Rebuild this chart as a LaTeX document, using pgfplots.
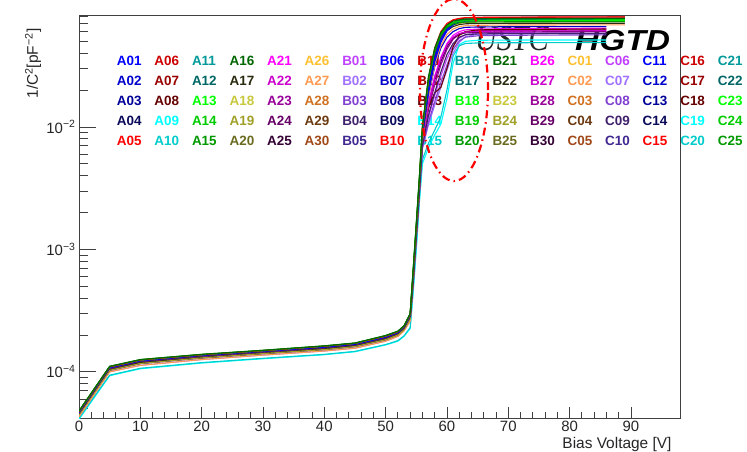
\documentclass[border=0pt]{standalone}
\usepackage{fontspec}
\setmainfont{Liberation Sans}
\newfontfamily\serifit{Liberation Serif}
\usepackage{pgfplots}
\usepackage{pgfplotstable}
\pgfplotsset{compat=1.18}

\definecolor{lc1}{HTML}{0000FF}\definecolor{lc2}{HTML}{0000CC}\definecolor{lc3}{HTML}{000099}\definecolor{lc4}{HTML}{0A0A5A}\definecolor{lc5}{HTML}{FF0000}
\definecolor{lc6}{HTML}{CC0000}\definecolor{lc7}{HTML}{990000}\definecolor{lc8}{HTML}{660000}\definecolor{lc9}{HTML}{00FFFF}\definecolor{lc10}{HTML}{00CCCC}
\definecolor{lc11}{HTML}{009999}\definecolor{lc12}{HTML}{006666}\definecolor{lc13}{HTML}{00FF00}\definecolor{lc14}{HTML}{00CC00}\definecolor{lc15}{HTML}{009900}
\definecolor{lc16}{HTML}{006600}\definecolor{lc17}{HTML}{2A2A10}\definecolor{lc18}{HTML}{C8C83C}\definecolor{lc19}{HTML}{A0A028}\definecolor{lc20}{HTML}{6B6B20}
\definecolor{lc21}{HTML}{FF00FF}\definecolor{lc22}{HTML}{CC00CC}\definecolor{lc23}{HTML}{990099}\definecolor{lc24}{HTML}{660066}\definecolor{lc25}{HTML}{330033}
\definecolor{lc26}{HTML}{FFC030}\definecolor{lc27}{HTML}{FF9A50}\definecolor{lc28}{HTML}{D07020}\definecolor{lc29}{HTML}{6B3A10}\definecolor{lc30}{HTML}{A04818}
\definecolor{lc31}{HTML}{C040FF}\definecolor{lc32}{HTML}{A070FF}\definecolor{lc33}{HTML}{8040D0}\definecolor{lc34}{HTML}{40206A}\definecolor{lc35}{HTML}{402890}

\newcommand\lgfont{\fontsize{13.5}{16}\selectfont\bfseries}

% fast-depleting sensors (top plateau)
\pgfplotstableread{
V f1 f2 f3 f4 f5 f6 f7 f8 f9 f10 f11 f12 f13 f14
0 4.75e-5 4.8e-5 4.65e-5 4.8e-5 4.65e-5 4.6e-5 4.75e-5 4.6e-5 4.65e-5 4.3e-5 4.5e-5 4.75e-5 4.6e-5 4.45e-5
5 1.10e-4 1.11e-4 1.08e-4 1.11e-4 1.08e-4 1.07e-4 1.10e-4 1.07e-4 1.08e-4 1.0e-4 1.04e-4 1.10e-4 1.07e-4 1.03e-4
10 1.25e-4 1.26e-4 1.23e-4 1.26e-4 1.23e-4 1.22e-4 1.25e-4 1.22e-4 1.23e-4 1.13e-4 1.19e-4 1.25e-4 1.22e-4 1.17e-4
20 1.38e-4 1.39e-4 1.36e-4 1.39e-4 1.36e-4 1.35e-4 1.38e-4 1.35e-4 1.36e-4 1.26e-4 1.31e-4 1.38e-4 1.35e-4 1.30e-4
30 1.49e-4 1.50e-4 1.47e-4 1.50e-4 1.47e-4 1.46e-4 1.49e-4 1.46e-4 1.47e-4 1.37e-4 1.42e-4 1.49e-4 1.46e-4 1.41e-4
40 1.62e-4 1.63e-4 1.59e-4 1.63e-4 1.59e-4 1.58e-4 1.62e-4 1.58e-4 1.59e-4 1.48e-4 1.54e-4 1.62e-4 1.58e-4 1.52e-4
45 1.71e-4 1.72e-4 1.68e-4 1.72e-4 1.68e-4 1.67e-4 1.71e-4 1.67e-4 1.68e-4 1.56e-4 1.63e-4 1.71e-4 1.67e-4 1.61e-4
50 1.96e-4 1.98e-4 1.92e-4 1.98e-4 1.92e-4 1.90e-4 1.96e-4 1.90e-4 1.92e-4 1.78e-4 1.85e-4 1.96e-4 1.90e-4 1.83e-4
52 2.13e-4 2.15e-4 2.09e-4 2.15e-4 2.09e-4 2.07e-4 2.13e-4 2.07e-4 2.09e-4 1.95e-4 2.02e-4 2.13e-4 2.07e-4 2.0e-4
53 2.36e-4 2.38e-4 2.31e-4 2.38e-4 2.31e-4 2.29e-4 2.36e-4 2.29e-4 2.31e-4 2.16e-4 2.24e-4 2.36e-4 2.29e-4 2.21e-4
54 2.95e-4 3.0e-4 2.88e-4 3.0e-4 2.88e-4 2.85e-4 2.95e-4 2.85e-4 2.88e-4 2.6e-4 2.75e-4 2.95e-4 2.85e-4 2.7e-4
54.5 6.6e-4 7.0e-4 6.3e-4 6.9e-4 6.4e-4 6.2e-4 6.7e-4 6.0e-4 6.3e-4 5.6e-4 6.0e-4 6.8e-4 6.1e-4 5.9e-4
55 1.55e-3 1.65e-3 1.45e-3 1.6e-3 1.5e-3 1.45e-3 1.55e-3 1.4e-3 1.48e-3 1.3e-3 1.4e-3 1.6e-3 1.42e-3 1.38e-3
55.5 3.7e-3 3.9e-3 3.4e-3 3.8e-3 3.5e-3 3.3e-3 3.7e-3 3.2e-3 3.5e-3 3.0e-3 3.2e-3 3.8e-3 3.3e-3 3.2e-3
56 9.8e-3 1.02e-2 8.8e-3 1.0e-2 9.2e-3 8.6e-3 9.6e-3 8.2e-3 9.0e-3 7.8e-3 8.4e-3 1.0e-2 8.5e-3 8.3e-3
57 2.5e-2 2.6e-2 2.1e-2 2.5e-2 2.3e-2 2.1e-2 2.4e-2 1.9e-2 2.2e-2 1.8e-2 2.0e-2 2.5e-2 2.0e-2 2.0e-2
58 4.4e-2 4.4e-2 3.7e-2 4.2e-2 4.1e-2 3.8e-2 4.2e-2 3.4e-2 3.9e-2 3.2e-2 3.6e-2 4.3e-2 3.6e-2 3.6e-2
59 6.0e-2 5.9e-2 5.2e-2 5.6e-2 5.7e-2 5.4e-2 5.7e-2 4.9e-2 5.5e-2 4.6e-2 5.1e-2 5.8e-2 5.2e-2 5.1e-2
60 7.0e-2 6.8e-2 6.3e-2 6.5e-2 6.8e-2 6.5e-2 6.6e-2 6.1e-2 6.6e-2 5.7e-2 6.1e-2 6.7e-2 6.4e-2 6.2e-2
61 7.5e-2 7.3e-2 6.9e-2 6.9e-2 7.4e-2 7.1e-2 7.1e-2 6.8e-2 7.1e-2 6.3e-2 6.6e-2 7.1e-2 7.0e-2 6.75e-2
62 7.7e-2 7.5e-2 7.2e-2 7.1e-2 7.65e-2 7.4e-2 7.3e-2 7.15e-2 7.4e-2 6.6e-2 6.85e-2 7.3e-2 7.35e-2 7.0e-2
63 7.8e-2 7.6e-2 7.35e-2 7.18e-2 7.75e-2 7.55e-2 7.4e-2 7.3e-2 7.5e-2 6.7e-2 6.95e-2 7.35e-2 7.5e-2 7.15e-2
65 7.85e-2 7.65e-2 7.42e-2 7.2e-2 7.82e-2 7.62e-2 7.45e-2 7.38e-2 7.55e-2 6.76e-2 7.0e-2 7.38e-2 7.58e-2 7.2e-2
70 7.88e-2 7.68e-2 7.46e-2 7.22e-2 7.85e-2 7.66e-2 7.48e-2 7.42e-2 7.58e-2 6.79e-2 7.02e-2 7.39e-2 7.62e-2 7.22e-2
89 7.93e-2 7.71e-2 7.5e-2 7.25e-2 7.9e-2 7.71e-2 7.5e-2 7.45e-2 7.6e-2 6.82e-2 7.03e-2 7.4e-2 7.65e-2 7.25e-2
}\fast

% slower sensors (purple / magenta group)
\pgfplotstableread{
V m1 m2 m3 m4 m5 m6 m7 m8 m9 m10
0 4.5e-5 4.45e-5 4.5e-5 4.3e-5 4.45e-5 4.5e-5 4.6e-5 4.65e-5 4.5e-5 4.45e-5
5 1.04e-4 1.03e-4 1.04e-4 1.0e-4 1.03e-4 1.04e-4 1.07e-4 1.08e-4 1.04e-4 1.03e-4
10 1.19e-4 1.17e-4 1.19e-4 1.13e-4 1.17e-4 1.19e-4 1.22e-4 1.23e-4 1.19e-4 1.17e-4
20 1.31e-4 1.30e-4 1.31e-4 1.26e-4 1.30e-4 1.31e-4 1.35e-4 1.36e-4 1.31e-4 1.30e-4
30 1.42e-4 1.41e-4 1.42e-4 1.37e-4 1.41e-4 1.42e-4 1.46e-4 1.47e-4 1.42e-4 1.41e-4
40 1.54e-4 1.52e-4 1.54e-4 1.48e-4 1.52e-4 1.54e-4 1.58e-4 1.59e-4 1.54e-4 1.52e-4
45 1.63e-4 1.61e-4 1.63e-4 1.56e-4 1.61e-4 1.63e-4 1.67e-4 1.68e-4 1.63e-4 1.61e-4
50 1.85e-4 1.83e-4 1.85e-4 1.78e-4 1.83e-4 1.85e-4 1.90e-4 1.92e-4 1.85e-4 1.83e-4
52 2.02e-4 2.0e-4 2.02e-4 1.95e-4 2.0e-4 2.02e-4 2.07e-4 2.09e-4 2.02e-4 2.0e-4
53 2.24e-4 2.21e-4 2.24e-4 2.16e-4 2.21e-4 2.24e-4 2.29e-4 2.31e-4 2.24e-4 2.21e-4
54 2.75e-4 2.7e-4 2.75e-4 2.6e-4 2.7e-4 2.75e-4 2.85e-4 2.88e-4 2.75e-4 2.7e-4
54.5 5.8e-4 5.6e-4 5.5e-4 5.3e-4 5.4e-4 5.7e-4 5.9e-4 5.8e-4 5.7e-4 5.5e-4
55 1.35e-3 1.3e-3 1.28e-3 1.22e-3 1.25e-3 1.32e-3 1.38e-3 1.35e-3 1.33e-3 1.27e-3
55.5 3.1e-3 3.0e-3 2.9e-3 2.8e-3 2.85e-3 3.05e-3 3.2e-3 3.1e-3 3.05e-3 2.9e-3
56 7.8e-3 7.4e-3 7.0e-3 6.6e-3 6.8e-3 7.6e-3 8.2e-3 7.9e-3 7.5e-3 7.1e-3
57 1.6e-2 1.4e-2 1.2e-2 1.05e-2 1.1e-2 1.5e-2 1.8e-2 1.45e-2 1.5e-2 1.25e-2
58 2.6e-2 2.2e-2 1.8e-2 1.5e-2 1.6e-2 2.4e-2 3.1e-2 1.9e-2 2.5e-2 1.9e-2
59 3.7e-2 3.2e-2 2.6e-2 2.1e-2 2.3e-2 3.4e-2 4.4e-2 2.1e-2 3.6e-2 2.8e-2
60 4.8e-2 4.3e-2 3.6e-2 2.9e-2 3.2e-2 4.5e-2 5.4e-2 3.0e-2 4.7e-2 3.9e-2
61 5.6e-2 5.2e-2 4.6e-2 4.0e-2 4.3e-2 5.3e-2 6.0e-2 4.5e-2 5.4e-2 4.8e-2
62 6.0e-2 5.7e-2 5.3e-2 4.9e-2 5.05e-2 5.7e-2 6.35e-2 5.6e-2 5.8e-2 5.4e-2
63 6.2e-2 5.95e-2 5.65e-2 5.45e-2 5.4e-2 5.85e-2 6.5e-2 6.0e-2 5.95e-2 5.65e-2
65 6.3e-2 6.1e-2 5.85e-2 5.7e-2 5.55e-2 5.93e-2 6.55e-2 6.2e-2 6.03e-2 5.75e-2
70 6.35e-2 6.15e-2 5.92e-2 5.75e-2 5.6e-2 5.97e-2 6.58e-2 6.25e-2 6.07e-2 5.78e-2
86 6.4e-2 6.2e-2 5.98e-2 5.8e-2 5.65e-2 6.0e-2 6.6e-2 6.3e-2 6.1e-2 5.8e-2
}\medium

% slowest sensors (cyan)
\pgfplotstableread{
V c1 c2
0 4.1e-5 4.2e-5
5 0.93e-4 0.94e-4
10 1.06e-4 1.07e-4
20 1.18e-4 1.19e-4
30 1.28e-4 1.29e-4
40 1.38e-4 1.39e-4
45 1.46e-4 1.47e-4
50 1.66e-4 1.67e-4
52 1.78e-4 1.80e-4
53 1.95e-4 1.97e-4
54 2.25e-4 2.3e-4
54.5 4.5e-4 4.7e-4
55 1.0e-3 1.05e-3
55.5 2.4e-3 2.5e-3
56 5.0e-3 5.4e-3
57 6.8e-3 7.4e-3
58 8.6e-3 9.4e-3
59 1.05e-2 1.2e-2
60 1.7e-2 2.0e-2
61 3.3e-2 3.8e-2
62 4.7e-2 4.6e-2
63 5.0e-2 4.8e-2
65 5.1e-2 4.85e-2
70 5.12e-2 4.87e-2
86 5.13e-2 4.88e-2
}\slow

\begin{document}
\begin{tikzpicture}
\path[use as bounding box] (0,0) rectangle (747bp,452bp);

% legend (coloured sensor names)
\foreach \i in {0,...,16}{
  \foreach \j in {0,...,4}{
    \pgfmathtruncatemacro{\nn}{5*mod(\i,6)+\j+1}
    \pgfmathtruncatemacro{\cid}{5*mod(\i,7)+\j+1}
    \pgfmathsetmacro{\xx}{116.7+37.56*\i}
    \pgfmathsetmacro{\yy}{391-20*\j}
    \node[anchor=west, inner sep=0pt, text=lc\cid, font=\lgfont] at (\xx bp,\yy bp)
      {\ifnum\i<6 A\else\ifnum\i<12 B\else C\fi\fi\ifnum\nn<10 0\fi\nn};
  }
}

\node[anchor=base west, inner sep=0pt, xscale=0.84, text=black!85,
      font=\serifit\itshape\fontsize{36}{38}\selectfont] at (475bp,401bp) {USTC};
\node[anchor=base west, inner sep=0pt, xscale=1.16, text=black,
      font=\bfseries\itshape\fontsize{29}{31}\selectfont] at (575bp,401bp) {HGTD};

\begin{axis}[
  at={(79bp,34bp)}, anchor=south west,
  width=601bp, height=403bp, scale only axis,
  ymode=log,
  xmin=0, xmax=98, ymin=4.2e-5, ymax=8.2e-2,
  axis line style={black!75, line width=0.9bp},
  tick pos=left, tick align=inside,
  xtick={0,10,...,90},
  xticklabels={0,10,20,30,40,50,60,70,80,90},
  minor x tick num=4,
  ytick={1e-4,1e-3,1e-2},
  yticklabels={10\textsuperscript{−4},10\textsuperscript{−3},10\textsuperscript{−2}},
  minor ytick={5e-5,6e-5,7e-5,8e-5,9e-5,2e-4,3e-4,4e-4,5e-4,6e-4,7e-4,8e-4,9e-4,2e-3,3e-3,4e-3,5e-3,6e-3,7e-3,8e-3,9e-3,2e-2,3e-2,4e-2,5e-2,6e-2,7e-2,8e-2},
  xtick style={/pgfplots/major tick length=11bp, /pgfplots/minor tick length=6bp, black!75, line width=0.8bp},
  ytick style={/pgfplots/major tick length=17bp, /pgfplots/minor tick length=9bp, black!75, line width=0.8bp},
  ticklabel style={font=\fontsize{15}{18}\selectfont, text=black!85},
  xlabel={Bias Voltage [V]},
  ylabel={1/C\textsuperscript{2}[pF\textsuperscript{−2}]},
  label style={font=\fontsize{15.5}{18}\selectfont, text=black!85},
  xlabel style={at={(axis description cs:0.9917,-0.065)}, anchor=east},
  ylabel style={at={(axis description cs:-0.0765,0.975)}, anchor=east},
  every axis plot/.append style={line width=1.1bp, line join=round, mark=none},
]
\addplot[color=lc9]  table[x=V,y=c1]{\slow};
\addplot[color=lc10] table[x=V,y=c2]{\slow};

\addplot[color=lc21] table[x=V,y=m1]{\medium};
\addplot[color=lc23] table[x=V,y=m2]{\medium};
\addplot[color=lc31] table[x=V,y=m3]{\medium};
\addplot[color=lc32] table[x=V,y=m4]{\medium};
\addplot[color=lc33] table[x=V,y=m5]{\medium};
\addplot[color=lc24] table[x=V,y=m6]{\medium};
\addplot[color=lc2]  table[x=V,y=m7]{\medium};
\addplot[color=lc8]  table[x=V,y=m8]{\medium};
\addplot[color=lc22] table[x=V,y=m9]{\medium};
\addplot[color=lc34] table[x=V,y=m10]{\medium};

\addplot[color=lc27] table[x=V,y=f10]{\fast};
\addplot[color=lc17] table[x=V,y=f11]{\fast};
\addplot[color=lc19] table[x=V,y=f14]{\fast};
\addplot[color=lc6]  table[x=V,y=f13]{\fast};
\addplot[color=lc1]  table[x=V,y=f8]{\fast};
\addplot[color=lc29] table[x=V,y=f6]{\fast};
\addplot[color=lc12] table[x=V,y=f9]{\fast};
\addplot[color=lc7]  table[x=V,y=f5]{\fast};
\addplot[color=lc1]  table[x=V,y=f3]{\fast};
\addplot[color=lc13] table[x=V,y=f12]{\fast};
\addplot[color=lc14] table[x=V,y=f7]{\fast};
\addplot[color=lc5]  table[x=V,y=f1]{\fast};
\addplot[color=lc15] table[x=V,y=f4]{\fast};
\addplot[color=lc16] table[x=V,y=f2]{\fast};
\end{axis}

\draw[red, line width=2.2bp, dash pattern=on 8bp off 4bp on 1.5bp off 4bp]
  (454bp,362bp) ellipse [x radius=34bp, y radius=91bp];
\end{tikzpicture}
\end{document}
